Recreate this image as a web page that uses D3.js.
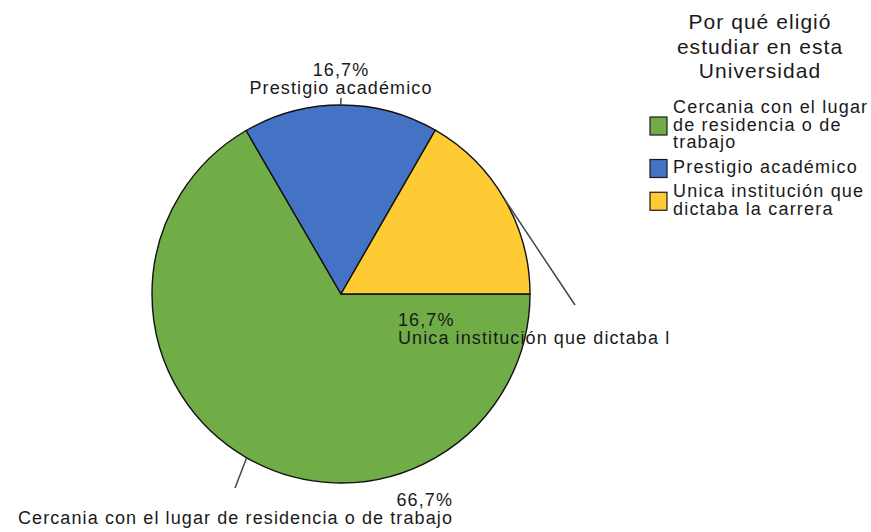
<!DOCTYPE html>
<html>
<head>
<meta charset="utf-8">
<script src="https://cdn.jsdelivr.net/npm/d3@7"></script>
<style>
  body { margin: 0; background: #fff; }
  text { font-family: "Liberation Sans", Arial, sans-serif; fill: #1a1a1a; }
</style>
</head>
<body>
<div id="chart"></div>
<script>
// data
var categories = ["Cercania con el lugar de residencia o de trabajo", "Prestigio académico", "Unica institución que dictaba la carrera"];
var percents = [66.7, 16.7, 16.7];
var sliceLabels = ["Cercania con el lugar de residencia o de trabajo", "Prestigio académico", "Unica institución que dictaba l"];
var legendLines = [["Cercania con el lugar", "de residencia o de", "trabajo"], ["Prestigio académico"], ["Unica institución que", "dictaba la carrera"]];
var titleLines = ["Por qué eligió", "estudiar en esta", "Universidad"];
var colors = ["#70ad47", "#4472c4", "#ffcb34"];

// layout
var width = 871, height = 532;
var cx = 341, cy = 294, radius = 189;
// where each leader line ends and its label sits, relative to the centre
var labelLayout = [
    {lx: -106, ly: 194, tx: 112, ty: 212, anchor: "end"},
    {lx: 0, ly: -196, tx: 0, ty: -218, anchor: "middle"},
    {lx: 234, ly: 11, tx: 57, ty: 32, anchor: "start"}
];

var fmt = function(v) { return d3.format(".1f")(v).replace(".", ",") + "%"; };

var svg = d3.select("#chart").append("svg")
    .attr("width", width)
    .attr("height", height);

var pie = d3.pie()
    .sort(null)
    .startAngle(Math.PI / 2)
    .endAngle(Math.PI / 2 + 2 * Math.PI);

var arc = d3.arc().innerRadius(0).outerRadius(radius);
var rim = d3.arc().innerRadius(radius).outerRadius(radius);

var g = svg.append("g")
    .attr("transform", "translate(" + cx + "," + cy + ")");

var arcs = pie(percents);

g.selectAll("path.slice")
    .data(arcs)
    .enter()
    .append("path")
    .attr("class", "slice")
    .attr("d", arc)
    .attr("fill", function(d, i) { return colors[i]; })
    .attr("stroke", "#111")
    .attr("stroke-width", 1.4)
    .attr("stroke-linejoin", "round");

// leader lines
g.selectAll("line.leader")
    .data(arcs)
    .enter()
    .append("line")
    .attr("class", "leader")
    .attr("x1", function(d) { return rim.centroid(d)[0]; })
    .attr("y1", function(d) { return rim.centroid(d)[1]; })
    .attr("x2", function(d, i) { return labelLayout[i].lx; })
    .attr("y2", function(d, i) { return labelLayout[i].ly; })
    .attr("stroke", "#444")
    .attr("stroke-width", 1.5);

// slice labels
var lab = g.selectAll("text.slabel")
    .data(arcs)
    .enter()
    .append("text")
    .attr("class", "slabel")
    .attr("text-anchor", function(d, i) { return labelLayout[i].anchor; })
    .style("font-size", "18px")
    .style("letter-spacing", "1.1px");
lab.append("tspan")
    .attr("x", function(d, i) { return labelLayout[i].tx; })
    .attr("y", function(d, i) { return labelLayout[i].ty; })
    .text(function(d, i) { return fmt(percents[i]); });
lab.append("tspan")
    .attr("x", function(d, i) { return labelLayout[i].tx; })
    .attr("y", function(d, i) { return labelLayout[i].ty + 18; })
    .text(function(d, i) { return sliceLabels[i]; });

// legend title
svg.append("text")
    .attr("text-anchor", "middle")
    .style("font-size", "21px")
    .style("letter-spacing", "1.05px")
    .selectAll("tspan")
    .data(titleLines)
    .enter()
    .append("tspan")
    .attr("x", 760)
    .attr("y", function(d, i) { return 29 + i * 24.5; })
    .text(function(d) { return d; });

// legend items
var legendY = [113, 173, 197];
var legend = svg.append("g").attr("class", "legend");
categories.forEach(function(c, i) {
    var lines = legendLines[i];
    var top = legendY[i] - 13;
    var blockH = (lines.length - 1) * 17.5 + 17;
    legend.append("rect")
        .attr("x", 650)
        .attr("y", top + blockH / 2 - 9)
        .attr("width", 17)
        .attr("height", 18)
        .attr("fill", colors[i])
        .attr("stroke", "#1a1a1a")
        .attr("stroke-width", 1.2);
    legend.append("text")
        .style("font-size", "18px")
        .style("letter-spacing", "1.2px")
        .selectAll("tspan")
        .data(lines)
        .enter()
        .append("tspan")
        .attr("x", 673)
        .attr("y", function(d, j) { return legendY[i] + j * 17.5; })
        .text(function(d) { return d; });
});
</script>
</body>
</html>
